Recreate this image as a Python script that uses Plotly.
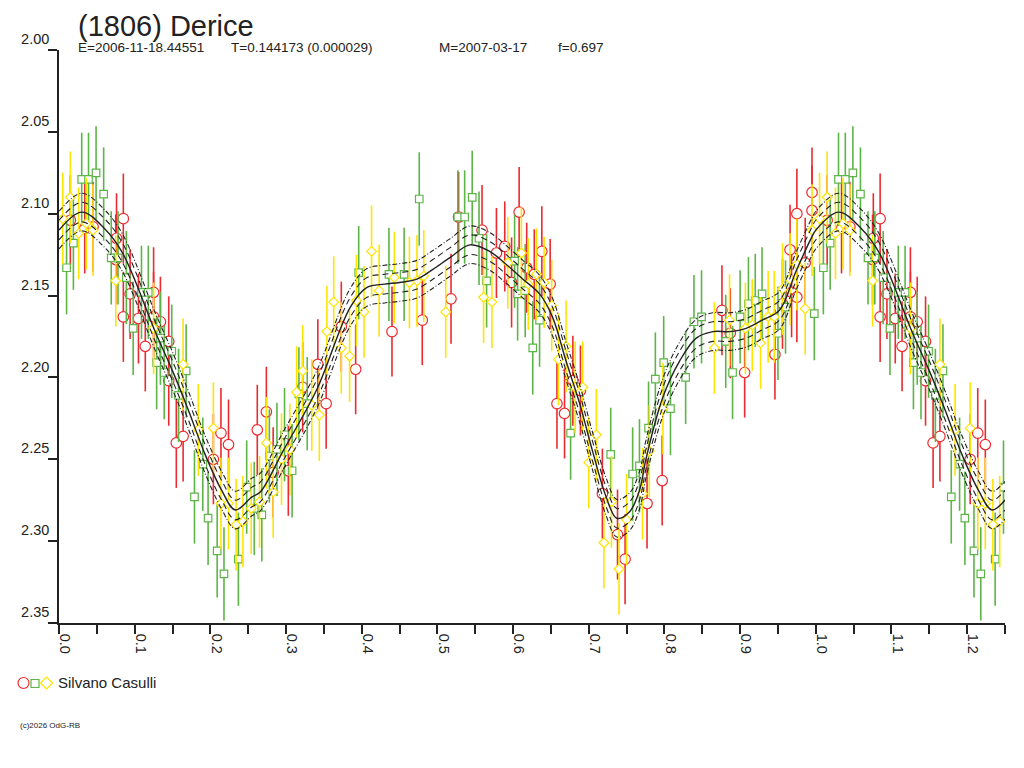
import plotly.graph_objects as go

# ---------------- text ----------------
title_text = "(1806) Derice"
subtitle_parts = ["E=2006-11-18.44551", "T=0.144173 (0.000029)", "M=2007-03-17", "f=0.697"]
observer = "Silvano Casulli"
credit = "(c)2026 OdG-RB"

# ---------------- axes ----------------
x_tick_vals = [0.00, 0.05, 0.10, 0.15, 0.20, 0.25, 0.30, 0.35, 0.40, 0.45, 0.50, 0.55, 0.60,
               0.65, 0.70, 0.75, 0.80, 0.85, 0.90, 0.95, 1.00, 1.05, 1.10, 1.15, 1.20, 1.25]
x_tick_labels = ["0.0", "", "0.1", "", "0.2", "", "0.3", "", "0.4", "", "0.5", "", "0.6",
                 "", "0.7", "", "0.8", "", "0.9", "", "1.0", "", "1.1", "", "1.2", ""]
y_tick_vals = [2.00, 2.05, 2.10, 2.15, 2.20, 2.25, 2.30, 2.35]
y_tick_labels = ["2.00", "2.05", "2.10", "2.15", "2.20", "2.25", "2.30", "2.35"]
phase_max = 1.25

# ---------------- observations (phase, reduced magnitude) ----------------
red_phase = [0.015, 0.034, 0.045, 0.085, 0.076, 0.075, 0.094, 0.125, 0.085, 0.105, 0.125, 0.134,
             0.145, 0.114, 0.145, 0.155, 0.164, 0.214, 0.224, 0.204, 0.262, 0.274, 0.283, 0.303,
             0.322, 0.342, 0.353, 0.373, 0.392, 0.440, 0.480, 0.518, 0.528, 0.559, 0.578, 0.589,
             0.598, 0.608, 0.618, 0.628, 0.638, 0.649, 0.658, 0.668, 0.679, 0.689, 0.718, 0.738,
             0.748, 0.777, 0.797, 0.876, 0.887, 0.906, 0.946, 0.956, 0.966, 0.968, 0.975, 0.975,
             0.986, 0.995, 0.995]
red_mag = [2.104, 2.109, 2.108, 2.103, 2.115, 2.128, 2.149, 2.148, 2.163, 2.164, 2.163, 2.166,
           2.178, 2.181, 2.202, 2.240, 2.236, 2.234, 2.241, 2.250, 2.232, 2.221, 2.258, 2.257,
           2.206, 2.192, 2.216, 2.169, 2.195, 2.172, 2.165, 2.152, 2.102, 2.110, 2.124, 2.120,
           2.142, 2.099, 2.133, 2.137, 2.123, 2.143, 2.216, 2.222, 2.202, 2.208, 2.271, 2.296,
           2.311, 2.277, 2.263, 2.159, 2.173, 2.197, 2.186, 2.155, 2.122, 2.148, 2.151, 2.100,
           2.130, 2.098, 2.087]
red_err = 0.0275

green_phase = [0.010, 0.019, 0.030, 0.039, 0.049, 0.059, 0.069, 0.078, 0.089, 0.109, 0.118, 0.098,
               0.134, 0.149, 0.129, 0.139, 0.168, 0.158, 0.190, 0.179, 0.197, 0.209, 0.218, 0.237,
               0.248, 0.258, 0.268, 0.278, 0.288, 0.298, 0.308, 0.317, 0.328, 0.396, 0.436, 0.456,
               0.476, 0.527, 0.536, 0.546, 0.555, 0.565, 0.602, 0.606, 0.616, 0.626, 0.635, 0.676,
               0.729, 0.758, 0.767, 0.779, 0.788, 0.799, 0.808, 0.828, 0.839, 0.849, 0.881, 0.890,
               0.900, 0.911, 0.920, 0.929, 0.950, 0.960, 0.998]
green_mag = [2.133, 2.118, 2.079, 2.079, 2.075, 2.088, 2.127, 2.127, 2.139, 2.148, 2.148, 2.170,
             2.176, 2.184, 2.191, 2.197, 2.196, 2.211, 2.253, 2.273, 2.286, 2.306, 2.320, 2.311,
             2.267, 2.280, 2.284, 2.248, 2.244, 2.235, 2.257, 2.210, 2.216, 2.136, 2.137, 2.137,
             2.091, 2.102, 2.102, 2.090, 2.115, 2.141, 2.129, 2.149, 2.147, 2.182, 2.165, 2.234,
             2.247, 2.259, 2.254, 2.231, 2.201, 2.191, 2.219, 2.200, 2.166, 2.163, 2.178, 2.197,
             2.163, 2.155, 2.153, 2.149, 2.173, 2.157, 2.161]
green_err = 0.0285

yellow_phase = [0.005, 0.015, 0.026, 0.036, 0.045, 0.075, 0.125, 0.164, 0.184, 0.204, 0.214, 0.224,
                0.234, 0.243, 0.254, 0.265, 0.274, 0.283, 0.294, 0.305, 0.314, 0.322, 0.334, 0.344,
                0.354, 0.363, 0.373, 0.384, 0.393, 0.403, 0.413, 0.423, 0.443, 0.463, 0.473, 0.482,
                0.511, 0.561, 0.572, 0.593, 0.611, 0.620, 0.631, 0.641, 0.651, 0.660, 0.670, 0.682,
                0.692, 0.700, 0.710, 0.720, 0.730, 0.740, 0.750, 0.771, 0.780, 0.798, 0.866, 0.886,
                0.907, 0.916, 0.927, 0.937, 0.945, 0.956, 0.966, 0.975, 0.986, 0.995]
yellow_mag = [2.103, 2.090, 2.112, 2.106, 2.110, 2.141, 2.170, 2.192, 2.232, 2.231, 2.277, 2.277,
              2.290, 2.288, 2.280, 2.276, 2.240, 2.270, 2.250, 2.244, 2.209, 2.196, 2.217, 2.223,
              2.172, 2.154, 2.182, 2.187, 2.153, 2.160, 2.123, 2.147, 2.139, 2.142, 2.141, 2.138,
              2.160, 2.151, 2.154, 2.130, 2.124, 2.143, 2.137, 2.142, 2.156, 2.189, 2.181, 2.206,
              2.206, 2.252, 2.235, 2.301, 2.276, 2.317, 2.287, 2.271, 2.245, 2.219, 2.182, 2.165,
              2.170, 2.168, 2.179, 2.163, 2.163, 2.146, 2.140, 2.131, 2.158, 2.110]
yellow_err = 0.028

# ---------------- fitted lightcurve ----------------
fit_phase = [0.000, 0.030, 0.060, 0.084, 0.128, 0.150, 0.171, 0.193, 0.215, 0.233, 0.255, 0.266,
             0.296, 0.340, 0.385, 0.407, 0.430, 0.450, 0.473, 0.494, 0.516, 0.543, 0.569, 0.591,
             0.613, 0.635, 0.652, 0.670, 0.688, 0.705, 0.723, 0.737, 0.754, 0.767, 0.776, 0.798,
             0.820, 0.842, 0.864, 0.886, 0.908, 0.929, 0.952, 0.974, 0.995]
fit_mag = [2.110, 2.099, 2.109, 2.124, 2.173, 2.196, 2.220, 2.247, 2.269, 2.281, 2.273, 2.270,
           2.245, 2.208, 2.157, 2.145, 2.143, 2.142, 2.140, 2.134, 2.127, 2.119, 2.123, 2.131,
           2.140, 2.149, 2.163, 2.190, 2.216, 2.245, 2.273, 2.286, 2.282, 2.269, 2.249, 2.212,
           2.190, 2.176, 2.172, 2.172, 2.170, 2.165, 2.159, 2.135, 2.114]
band_inner = 0.006
band_outer = 0.0115

# ---------------- colours / styles ----------------
RED = "#EC2A2F"
GREEN = "#5DB548"
YELLOW = "#FFE400"
INK = "#222222"
FONT = "Liberation Sans, Arial, sans-serif"


def fold(ph, mag, limit):
    xs = list(ph) + [p + 1.0 for p in ph if p + 1.0 <= limit]
    ys = list(mag) + [m for p, m in zip(ph, mag) if p + 1.0 <= limit]
    return xs, ys


fig = go.Figure()

series = [
    (red_phase, red_mag, red_err, RED, "circle", 10.5),
    (green_phase, green_mag, green_err, GREEN, "square", 7.5),
    (yellow_phase, yellow_mag, yellow_err, YELLOW, "diamond", 7.5),
]
for ph, mg, er, col, sym, sz in series:
    xs, ys = fold(ph, mg, phase_max + 0.001)
    fig.add_trace(go.Scatter(
        x=xs, y=ys, mode="markers",
        marker=dict(symbol=sym, size=sz, color="white", line=dict(color=col, width=1.2)),
        error_y=dict(type="constant", value=er, color=col, thickness=1.6, width=0),
        showlegend=False, hoverinfo="skip",
    ))

fx, fy = fold(fit_phase, fit_mag, phase_max + 0.03)
curves = [
    (-band_outer, dict(color=INK, width=1.1, dash="5px,2px,1px,2px")),
    (-band_inner, dict(color=INK, width=1.1, dash="6px,4px")),
    (0.0, dict(color=INK, width=1.4)),
    (band_inner, dict(color=INK, width=1.1, dash="6px,4px")),
    (band_outer, dict(color=INK, width=1.1, dash="5px,2px,1px,2px")),
]
for off, ln in curves:
    fig.add_trace(go.Scatter(
        x=fx, y=[v + off for v in fy], mode="lines",
        line=dict(shape="spline", smoothing=1.0, **ln),
        showlegend=False, hoverinfo="skip",
    ))

# ---------------- layout ----------------
# page coordinates of the plot area; the page body adds an 8px offset
OFF = 8
W, H = 1024 - OFF, 768 - OFF
PL, PR, PT, PB = 59, 1005, 50, 623


def paper_x(px):
    return (px - PL) / (PR - PL)


def paper_y(py):
    return (PB - py) / (PB - PT)


annotations = [
    dict(text=title_text, x=paper_x(76), y=paper_y(OFF), xanchor="left", yanchor="top",
         font=dict(size=29, color=INK, family=FONT)),
]
for txt, px in zip(subtitle_parts, [76, 229, 437, 556]):
    annotations.append(dict(text=txt, x=paper_x(px), y=paper_y(47), xanchor="left", yanchor="middle",
                            font=dict(size=13.5, color=INK, family=FONT)))
annotations.append(dict(text=observer, x=paper_x(56), y=paper_y(683), xanchor="left", yanchor="middle",
                        font=dict(size=15, color=INK, family=FONT)))
annotations.append(dict(text=credit, x=paper_x(18), y=paper_y(725), xanchor="left", yanchor="middle",
                        font=dict(size=8, color=INK, family=FONT)))
for a in annotations:
    a.update(xref="paper", yref="paper", showarrow=False)

shapes = [
    dict(type="circle", xref="paper", yref="paper", xsizemode="pixel", ysizemode="pixel",
         xanchor=paper_x(23.5), yanchor=paper_y(683), x0=-5.5, x1=5.5, y0=-5.5, y1=5.5,
         line=dict(color=RED, width=1.2)),
    dict(type="rect", xref="paper", yref="paper", xsizemode="pixel", ysizemode="pixel",
         xanchor=paper_x(35), yanchor=paper_y(683.5), x0=-4, x1=4, y0=-4, y1=4,
         line=dict(color=GREEN, width=1.2)),
    dict(type="path", xref="paper", yref="paper", xsizemode="pixel", ysizemode="pixel",
         xanchor=paper_x(46.5), yanchor=paper_y(683), path="M -6 0 L 0 6 L 6 0 L 0 -6 Z",
         line=dict(color=YELLOW, width=1.2)),
]

fig.update_layout(
    width=W, height=H,
    margin=dict(l=PL - OFF, r=1024 - PR, t=PT - OFF, b=768 - PB, pad=0, autoexpand=False),
    paper_bgcolor="white", plot_bgcolor="white",
    font=dict(family=FONT, color=INK),
    annotations=annotations, shapes=shapes,
    showlegend=False,
)
fig.update_xaxes(
    range=[0, phase_max], tickmode="array", tickvals=x_tick_vals, ticktext=x_tick_labels,
    ticks="outside", ticklen=9, tickwidth=1.5, tickcolor=INK, tickangle=90,
    tickfont=dict(size=14.5, color=INK, family=FONT), ticklabelshift=6, ticklabelstandoff=-3,
    showline=True, linecolor=INK, linewidth=1.5, showgrid=False, zeroline=False,
    automargin=False,
)
fig.update_yaxes(
    range=[2.35, 2.00], tickmode="array", tickvals=y_tick_vals, ticktext=y_tick_labels,
    ticks="outside", ticklen=9, tickwidth=1.5, tickcolor=INK,
    ticklabelposition="outside top", ticklabelstandoff=5,
    tickfont=dict(size=14.5, color=INK, family=FONT),
    showline=True, linecolor=INK, linewidth=1.5, showgrid=False, zeroline=False,
    automargin=False,
)

fig.write_html("out.html")
